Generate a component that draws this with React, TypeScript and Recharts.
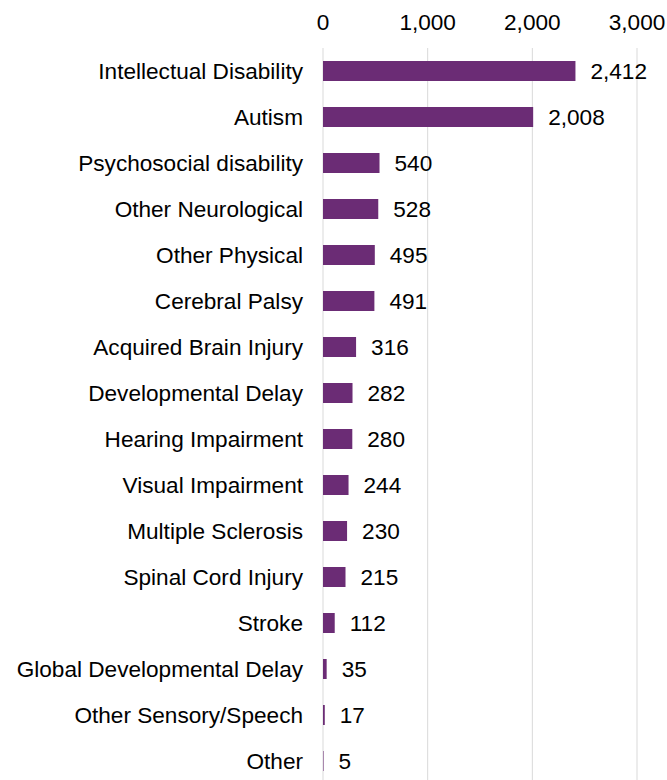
import { BarChart, Bar, XAxis, YAxis, CartesianGrid, LabelList } from 'recharts';

const CATEGORIES = [
  'Intellectual Disability',
  'Autism',
  'Psychosocial disability',
  'Other Neurological',
  'Other Physical',
  'Cerebral Palsy',
  'Acquired Brain Injury',
  'Developmental Delay',
  'Hearing Impairment',
  'Visual Impairment',
  'Multiple Sclerosis',
  'Spinal Cord Injury',
  'Stroke',
  'Global Developmental Delay',
  'Other Sensory/Speech',
  'Other',
];

const VALUES = [2412, 2008, 540, 528, 495, 491, 316, 282, 280, 244, 230, 215, 112, 35, 17, 5];

const X_TICKS = [0, 1000, 2000, 3000];

const BAR_COLOR = '#6b2c75';
const FONT = '"Liberation Sans", Arial, sans-serif';
const FS = 22.6;

const data = CATEGORIES.map((name, i) => ({ name, value: VALUES[i] }));

const fmt = (v: any) => Number(v).toLocaleString('en-US');

export default function App() {
  return (
    <div style={{ position: 'absolute', left: 0, top: 0, fontFamily: FONT }}>
      <BarChart
        width={667}
        height={784}
        data={data}
        layout="vertical"
        margin={{ top: 0, right: 30, bottom: 0, left: 0 }}
      >
        <CartesianGrid horizontal={false} stroke="#d9d9d9" />
        <XAxis
          type="number"
          orientation="top"
          domain={[0, 3000]}
          ticks={X_TICKS}
          tickFormatter={fmt}
          height={48}
          axisLine={false}
          tickLine={false}
          tickSize={0}
          tickMargin={18}
          tick={{ fill: '#000', fontSize: FS, fontFamily: FONT }}
        />
        <YAxis
          type="category"
          dataKey="name"
          width={323}
          axisLine={false}
          tickLine={false}
          tickSize={0}
          tickMargin={20}
          interval={0}
          tick={{ fill: '#000', fontSize: FS, fontFamily: FONT }}
        />
        <Bar dataKey="value" fill={BAR_COLOR} barSize={20} isAnimationActive={false}>
          <LabelList
            dataKey="value"
            position="right"
            offset={15}
            formatter={fmt}
            fill="#000"
            fontSize={FS}
            fontFamily={FONT}
          />
        </Bar>
      </BarChart>
    </div>
  );
}
